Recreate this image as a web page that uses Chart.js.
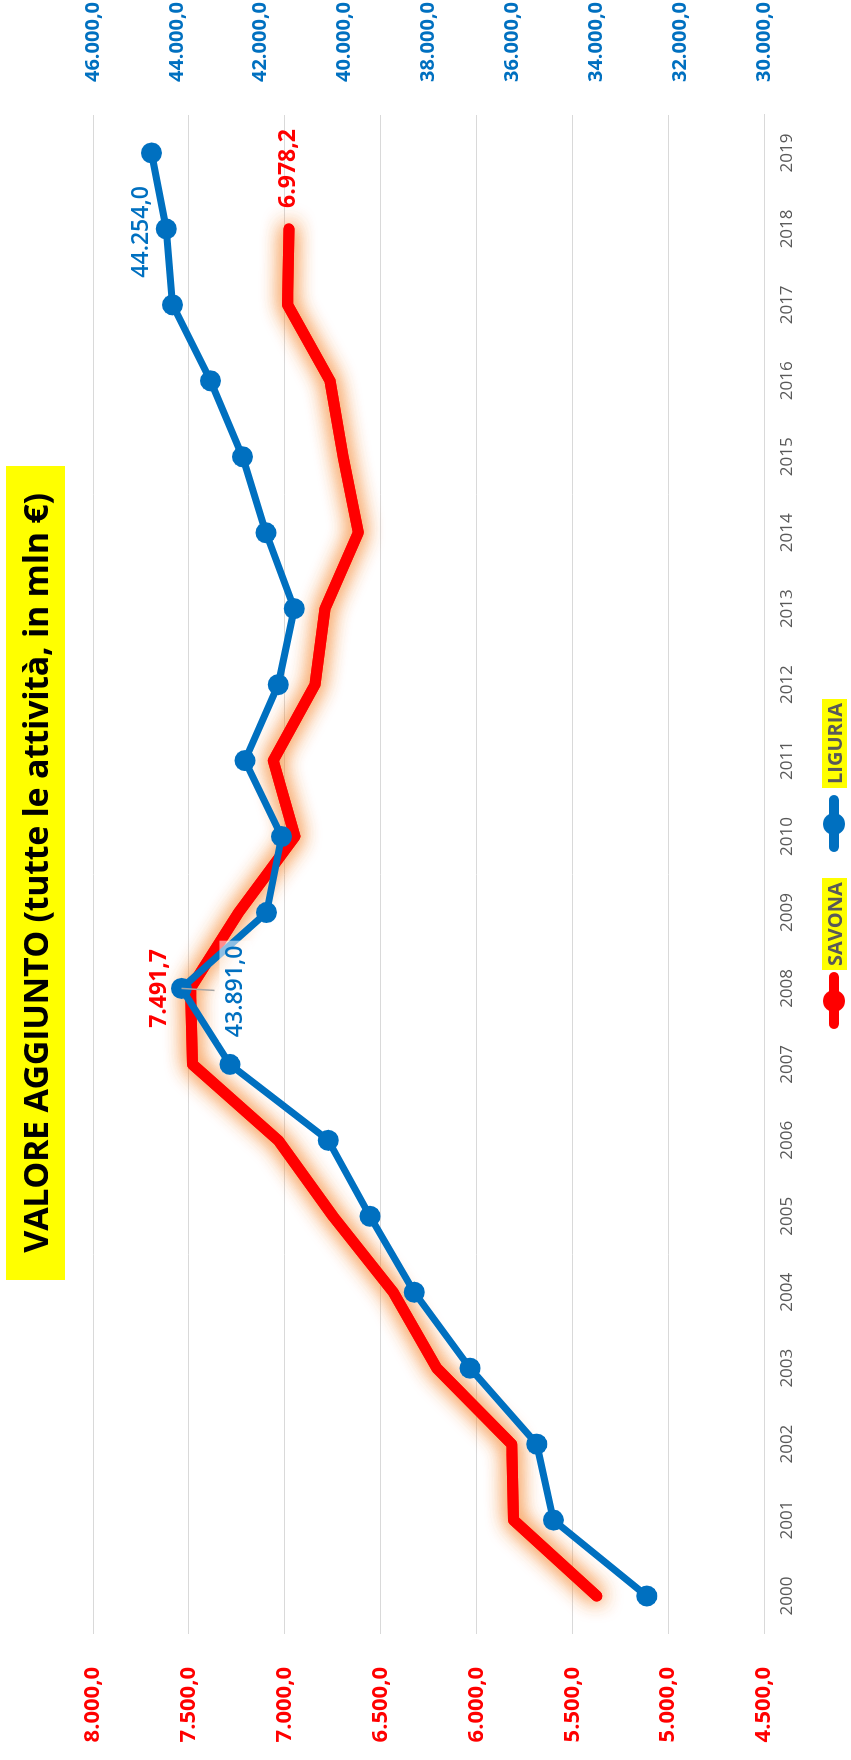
<!DOCTYPE html>
<html lang="it">
<head>
    <meta charset="UTF-8">
    <meta name="viewport" content="width=device-width, initial-scale=1">
    <title>VALORE AGGIUNTO - Savona / Liguria</title>
    <script src="https://cdn.jsdelivr.net/npm/chart.js"></script>
</head>
<style>
    html, body{
        margin: 0;
        padding: 0;
        background: #ffffff;
        overflow: hidden;
    }
    body{
        width: 851px;
        height: 1760px;
        position: relative;
    }
    /* the chart is laid out landscape and turned a quarter left */
    #chartwrap{
        position: absolute;
        left: 0;
        top: 0;
        width: 1760px;
        height: 851px;
        transform-origin: 0 0;
        transform: translateY(1760px) rotate(-90deg);
        font-family: 'Open Sans', sans-serif;
    }
    #LineChartCanvas{
        position: absolute;
        left: 0;
        top: 0;
    }
    #charttitle{
        position: absolute;
        left: 480px;
        top: 6px;
        width: 814px;
        height: 59px;
        line-height: 59px;
        background: #ffff00;
        color: #000000;
        font-weight: 700;
        font-size: 34px;
        letter-spacing: -0.3px;
        text-align: center;
        white-space: nowrap;
    }
    .lg-line{
        position: absolute;
        top: 829px;
        height: 10px;
        width: 57px;
        border-radius: 5px;
    }
    .lg-dot{
        position: absolute;
        top: 823px;
        width: 22px;
        height: 22px;
        border-radius: 50%;
    }
    .lg-text{
        position: absolute;
        top: 822px;
        height: 25px;
        line-height: 25px;
        padding: 0 4px;
        background: #ffff00;
        color: #595959;
        font-weight: 700;
        font-size: 20px;
        white-space: nowrap;
    }
</style>
<body>
    <div id="chartwrap">
        <canvas id="LineChartCanvas" width="1760" height="851"></canvas>
        <div id="charttitle">VALORE AGGIUNTO (tutte le attività, in mln €)</div>
        <div id="legend"></div>
    </div>

    <script>
        var years = ['2000', '2001', '2002', '2003', '2004', '2005', '2006', '2007', '2008', '2009',
                     '2010', '2011', '2012', '2013', '2014', '2015', '2016', '2017', '2018', '2019'];

        // valore aggiunto, mln euro
        var savona = [5372, 5807, 5816, 6207, 6434, 6748, 7034, 7481, 7491.7, 7240,
                      6947, 7060, 6842, 6790, 6616, 6695, 6764, 6985, 6978.2, null];
        var liguria = [32794, 35022, 35418, 37010, 38339, 39395, 40390, 42736, 43891.0, 41860,
                       41503, 42378, 41583, 41202, 41877, 42433, 43197, 44103, 44254.0, 44604];

        var seriesNames = ['SAVONA', 'LIGURIA'];
        var seriesColors = ['#ff0000', '#0070c0'];

        // axis ranges (min, max, step)
        var savonaAxis = [4500, 8000, 500];
        var liguriaAxis = [30000, 46000, 2000];

        // which points carry a value label
        var labelledPoints = [
            { dataset: 0, index: 8, dx: 0, dy: -31, align: 'center', weight: 'bold' },
            { dataset: 0, index: 18, dx: 21, dy: 0, align: 'left', weight: 'bold' },
            { dataset: 1, index: 8, dx: -3, dy: 54, align: 'center', weight: '600', leader: 33, box: true },
            { dataset: 1, index: 18, dx: -3, dy: -25, align: 'center', weight: '600' }
        ];

        function formatIt(v) {
            var parts = Math.abs(v).toFixed(1).split('.');
            var intPart = parts[0].replace(/\B(?=(\d{3})+(?!\d))/g, '.');
            return (v < 0 ? '-' : '') + intPart + ',' + parts[1];
        }

        // soft orange halo round the Savona line
        var glowPlugin = {
            id: 'glow',
            beforeDatasetDraw: function (chart, args, opts) {
                if (args.index !== opts.datasetIndex) return;
                var ctx = chart.ctx;
                ctx.save();
                ctx.shadowColor = opts.color;
                ctx.shadowBlur = opts.blur;
                // one extra pass makes the halo as strong as the original
                args.meta.dataset.draw(ctx, chart.chartArea);
            },
            afterDatasetDraw: function (chart, args, opts) {
                if (args.index !== opts.datasetIndex) return;
                chart.ctx.restore();
            }
        };

        var valueLabelPlugin = {
            id: 'valueLabels',
            afterDatasetsDraw: function (chart, args, opts) {
                var ctx = chart.ctx;
                opts.items.forEach(function (item) {
                    var pt = chart.getDatasetMeta(item.dataset).data[item.index];
                    var value = chart.data.datasets[item.dataset].data[item.index];
                    var color = chart.data.datasets[item.dataset].borderColor;
                    var text = formatIt(value);
                    var x = pt.x + item.dx;
                    var y = pt.y + item.dy;
                    ctx.save();
                    ctx.font = item.weight + ' ' + opts.size + 'px "Open Sans", sans-serif';
                    var w = ctx.measureText(text).width;
                    if (item.leader) {
                        ctx.strokeStyle = '#a6a6a6';
                        ctx.lineWidth = 1.5;
                        ctx.beginPath();
                        ctx.moveTo(pt.x, pt.y);
                        ctx.lineTo(pt.x - 2, pt.y + item.leader);
                        ctx.stroke();
                    }
                    if (item.box) {
                        var left = item.align === 'center' ? x - w / 2 : x;
                        ctx.fillStyle = 'rgba(255,255,255,0.55)';
                        ctx.fillRect(left - 5, y - 16, w + 10, 32);
                    }
                    ctx.fillStyle = color;
                    ctx.textAlign = item.align;
                    ctx.textBaseline = 'middle';
                    ctx.fillText(text, x, y);
                    ctx.restore();
                });
            }
        };

        var ctx = document.getElementById('LineChartCanvas').getContext('2d');
        window.myChart = new Chart(ctx, {
            type: 'line',
            data: {
                labels: years,
                datasets: [{
                    label: seriesNames[0],
                    data: savona,
                    yAxisID: 'y',
                    borderColor: seriesColors[0],
                    backgroundColor: seriesColors[0],
                    borderWidth: 11,
                    borderCapStyle: 'round',
                    borderJoinStyle: 'round',
                    pointRadius: 0,
                    tension: 0,
                    order: 1
                }, {
                    label: seriesNames[1],
                    data: liguria,
                    yAxisID: 'y1',
                    borderColor: seriesColors[1],
                    backgroundColor: seriesColors[1],
                    borderWidth: 7,
                    borderCapStyle: 'round',
                    borderJoinStyle: 'round',
                    pointRadius: 10.5,
                    pointBorderWidth: 0,
                    pointBackgroundColor: seriesColors[1],
                    tension: 0,
                    order: 0
                }]
            },
            options: {
                responsive: false,
                animation: false,
                devicePixelRatio: 1,
                layout: {
                    padding: { top: 93, left: 0, right: 0, bottom: 0 }
                },
                scales: {
                    x: {
                        type: 'category',
                        offset: true,
                        grid: { display: false, drawTicks: false },
                        border: { display: true, color: '#d9d9d9', width: 1 },
                        ticks: {
                            color: '#595959',
                            font: { family: 'Open Sans', size: 17 },
                            padding: 13,
                            autoSkip: false,
                            maxRotation: 0
                        },
                        afterFit: function (scale) { scale.height = 87; }
                    },
                    y: {
                        position: 'left',
                        min: savonaAxis[0],
                        max: savonaAxis[1],
                        grid: { color: '#d9d9d9', lineWidth: 1, drawTicks: false },
                        border: { display: false },
                        ticks: {
                            stepSize: savonaAxis[2],
                            color: '#ff0000',
                            font: { family: 'Open Sans', size: 22, weight: 'bold' },
                            padding: 33,
                            callback: function (v) { return formatIt(v); }
                        },
                        afterFit: function (scale) { scale.width = 126; }
                    },
                    y1: {
                        position: 'right',
                        min: liguriaAxis[0],
                        max: liguriaAxis[1],
                        grid: { display: false, drawTicks: false },
                        border: { display: false },
                        ticks: {
                            stepSize: liguriaAxis[2],
                            color: '#0070c0',
                            font: { family: 'Open Sans', size: 20, weight: 'bold' },
                            padding: 33,
                            callback: function (v) { return formatIt(v); }
                        },
                        afterFit: function (scale) { scale.width = 115; }
                    }
                },
                plugins: {
                    legend: { display: false },
                    title: { display: false },
                    tooltip: { enabled: false },
                    glow: { datasetIndex: 0, color: 'rgba(245,140,55,0.9)', blur: 20 },
                    valueLabels: { items: labelledPoints, size: 23 }
                }
            },
            plugins: [glowPlugin, valueLabelPlugin]
        });

        // legend under the plot, same look as the original
        function buildLegend() {
            var legend = document.getElementById('legend');
            var lineLeft = [731, 908];
            var textLeft = [790, 972];
            seriesNames.forEach(function (name, i) {
                var line = document.createElement('div');
                line.className = 'lg-line';
                line.style.left = lineLeft[i] + 'px';
                line.style.background = seriesColors[i];
                var dot = document.createElement('div');
                dot.className = 'lg-dot';
                dot.style.left = (lineLeft[i] + 17) + 'px';
                dot.style.background = seriesColors[i];
                var label = document.createElement('div');
                label.className = 'lg-text';
                label.style.left = textLeft[i] + 'px';
                label.textContent = name;
                legend.appendChild(line);
                legend.appendChild(dot);
                legend.appendChild(label);
            });
        }
        buildLegend();
    </script>
</body>
</html>
